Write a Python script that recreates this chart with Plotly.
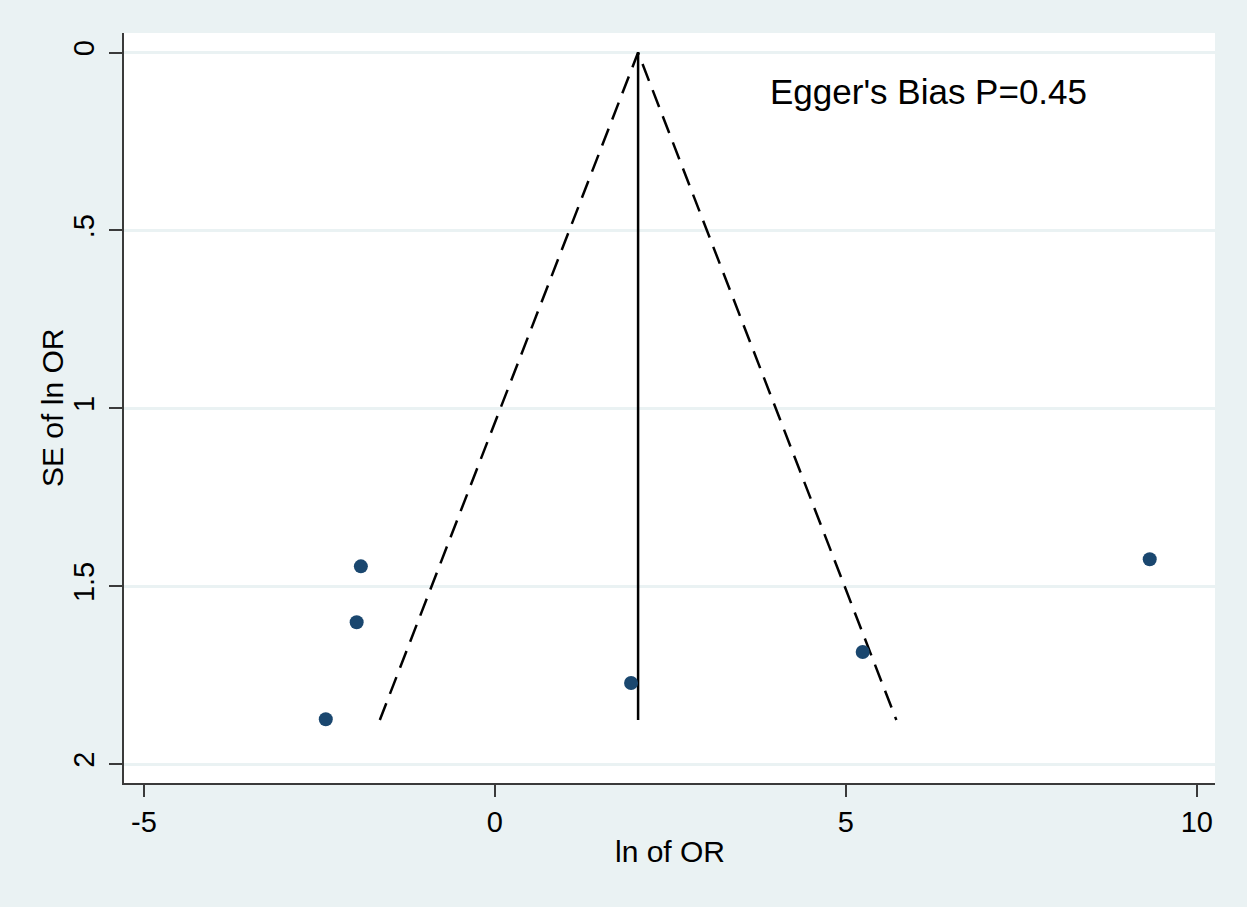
import plotly.graph_objects as go

# Study estimates (ln OR) and their standard errors
ln_or = [-1.91, -1.97, -2.41, 1.94, 5.24, 9.33]
se_ln_or = [1.444, 1.601, 1.874, 1.772, 1.685, 1.424]

# Pseudo 95% confidence funnel (pooled estimate 2.04, max SE 1.876)
funnel_x = [-1.64, 2.04, 5.72]
funnel_y = [1.876, 0.0, 1.876]
pooled_x = [2.04, 2.04]
pooled_y = [0.0, 1.876]

y_tickvals = [0, 0.5, 1, 1.5, 2]
y_ticktext = ["0", ".5", "1", "1.5", "2"]
x_tickvals = [-5, 0, 5, 10]
x_ticktext = ["-5", "0", "5", "10"]

x_title = "ln of OR"
y_title = "SE of ln OR"
annotation_text = "Egger's Bias P=0.45"

BG = "#EAF2F3"
NAVY = "#1A476F"
AXIS = "#3a3a3a"
FONT = "Arial, Liberation Sans, sans-serif"

fig = go.Figure()
fig.add_trace(go.Scatter(x=funnel_x, y=funnel_y, mode="lines",
                         line=dict(color="black", width=2.5, dash="18px,10px"),
                         hoverinfo="skip", showlegend=False))
fig.add_trace(go.Scatter(x=pooled_x, y=pooled_y, mode="lines",
                         line=dict(color="black", width=2.5),
                         hoverinfo="skip", showlegend=False))
fig.add_trace(go.Scatter(x=ln_or, y=se_ln_or, mode="markers",
                         marker=dict(color=NAVY, size=14, line=dict(width=0)),
                         showlegend=False))

fig.add_annotation(x=3.89, y=0.11, xref="x", yref="y", text=annotation_text,
                   showarrow=False, xanchor="left", yanchor="middle",
                   font=dict(family=FONT, size=35, color="black"))

# axis titles
fig.add_annotation(x=0.5, y=-0.0907, xref="paper", yref="paper", text=x_title,
                   showarrow=False, xanchor="center", yanchor="middle",
                   font=dict(family=FONT, size=30, color="black"))
fig.add_annotation(x=-0.066, y=0.5, xref="paper", yref="paper", text=y_title,
                   showarrow=False, xanchor="center", yanchor="middle",
                   textangle=-90,
                   font=dict(family=FONT, size=30, color="black"))

# thin white strip along the bottom edge of the picture
fig.add_shape(type="rect", xref="paper", yref="paper",
              x0=-0.2, x1=1.2, y0=-0.1680, y1=-0.1653,
              fillcolor="white", line=dict(width=0), layer="below")

fig.update_layout(
    width=1247, height=909,
    margin=dict(l=124, r=32, t=33, b=126),
    paper_bgcolor=BG, plot_bgcolor="white",
    font=dict(family=FONT, size=29, color="black"),
    xaxis=dict(range=[-5.285, 10.26], tickvals=x_tickvals, ticktext=x_ticktext,
               showgrid=False, zeroline=False, showline=True, linecolor=AXIS,
               linewidth=1.7, ticks="outside", ticklen=12, tickwidth=1.7,
               tickcolor=AXIS, tickfont=dict(size=29),
               automargin=False, mirror=False),
    yaxis=dict(range=[2.053, -0.055], tickvals=y_tickvals, ticktext=y_ticktext,
               tickangle=-90, showgrid=True, gridcolor=BG, gridwidth=2.5,
               zeroline=False, showline=True, linecolor=AXIS, linewidth=1.7,
               ticks="outside", ticklen=13, tickwidth=1.7, tickcolor=AXIS,
               tickfont=dict(size=29), ticklabelstandoff=4,
               automargin=False, mirror=False),
)

fig.write_html("out.html")
